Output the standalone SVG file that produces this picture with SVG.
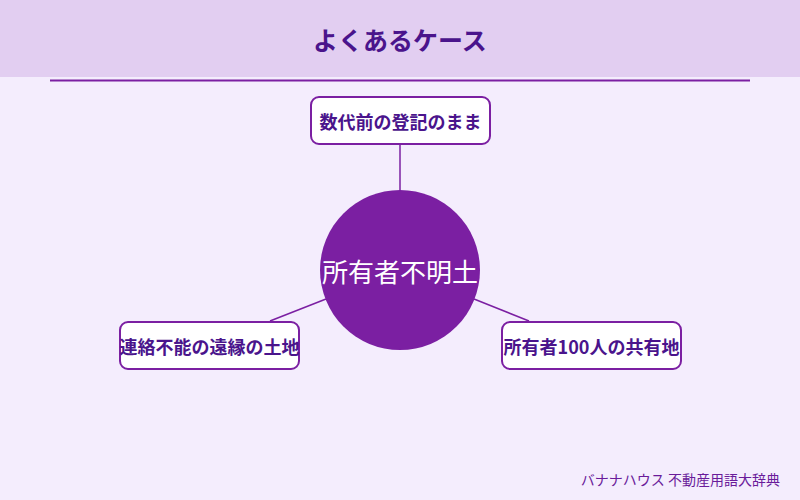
<svg xmlns="http://www.w3.org/2000/svg" width="800" height="500" viewBox="0 0 800 500">
<style>
.box{fill:#ffffff;stroke:#7B1FA2;stroke-width:2}
.lbl{font-family:"Noto Sans CJK JP","Noto Sans",sans-serif;font-size:18px;font-weight:bold;fill:#4A148C;text-anchor:middle;dominant-baseline:central}
.conn{stroke:#7B1FA2;stroke-width:1.5;fill:none}
</style>
<rect x="0" y="0" width="800" height="500" fill="#F4EDFD"/>
<rect x="0" y="0" width="800" height="77" fill="#E2CEF1"/>
<text x="400" y="39" font-family="'Noto Sans CJK JP','Noto Sans',sans-serif" font-size="25" font-weight="bold" fill="#4A148C" text-anchor="middle" dominant-baseline="central">よくあるケース</text>
<line x1="50" y1="80.5" x2="750" y2="80.5" stroke="#7B1FA2" stroke-width="2"/>
<g id="connectors">
<line class="conn" x1="400" y1="144" x2="400" y2="190"/>
<line class="conn" x1="270" y1="321" x2="326" y2="299"/>
<line class="conn" x1="474" y1="299" x2="529" y2="321"/>
</g>
<g id="center">
<circle cx="400" cy="270" r="80" fill="#7B1FA2"/>
<text x="400" y="270" font-family="'Noto Sans CJK JP','Noto Sans',sans-serif" font-size="26" fill="#ffffff" text-anchor="middle" dominant-baseline="central">所有者不明土</text>
</g>
<g id="node-top">
<rect class="box" x="311" y="97" width="179" height="47" rx="8"/>
<text class="lbl" x="400.5" y="120.5">数代前の登記のまま</text>
</g>
<g id="node-left">
<rect class="box" x="120" y="322" width="179" height="47" rx="8"/>
<text class="lbl" x="209.5" y="345.5">連絡不能の遠縁の土地</text>
</g>
<g id="node-right">
<rect class="box" x="502" y="322" width="179" height="47" rx="8"/>
<text class="lbl" x="591.5" y="345.5">所有者100人の共有地</text>
</g>
<text x="780" y="479" font-family="'Noto Sans CJK JP','Noto Sans',sans-serif" font-size="14" fill="#6A1B9A" text-anchor="end" dominant-baseline="central">バナナハウス 不動産用語大辞典</text>
</svg>
